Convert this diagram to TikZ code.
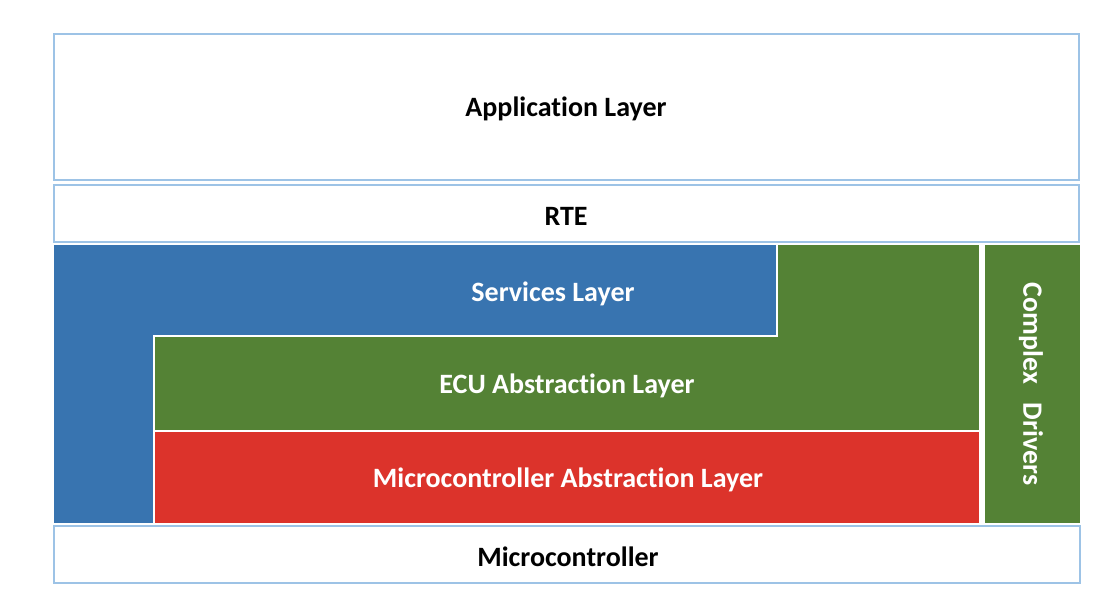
\documentclass[tikz,border=0pt]{standalone}
\usepackage{fontspec}
\setmainfont[Ligatures=NoCommon]{Carlito}
\definecolor{bordblue}{HTML}{9DC3E6}
\definecolor{svcblue}{HTML}{3874B0}
\definecolor{ecugreen}{HTML}{548235}
\definecolor{mcalred}{HTML}{DC332B}
\tikzset{
  whitebox/.style={draw=bordblue, line width=2pt, fill=white},
  colbox/.style={draw=white, line width=2pt},
  lbl/.style={font=\bfseries\fontsize{28}{32}\selectfont, text=black, inner sep=0pt},
  wlbl/.style={lbl, text=white},
}
\begin{document}
\begin{tikzpicture}[x=1pt,y=-1pt]
\useasboundingbox (0,0) rectangle (1118,604);
% white boxes
\draw[whitebox] (54,34) rectangle (1079,180);
\draw[whitebox] (54,185) rectangle (1079,242);
\draw[whitebox] (54,526) rectangle (1080,583);
% colored
\draw[colbox, fill=ecugreen] (776,244) -- (980,244) -- (980,431) -- (154,431) -- (154,336) -- (776,336) -- cycle;
\draw[colbox, fill=mcalred] (154,431) rectangle (980,524);
\draw[colbox, fill=ecugreen] (984,244) rectangle (1081,524);
\draw[colbox, fill=svcblue] (53,244) -- (777,244) -- (777,336) -- (154,336) -- (154,524) -- (53,524) -- cycle;
% labels
\node[lbl] (app) at (566,109) {Application Layer};
\node[lbl] (rte) at (566,216) {RTE};
\node[wlbl] (svc) at (553,294) {Services Layer};
\node[wlbl] (ecu) at (567,386) {ECU Abstraction Layer};
\node[wlbl] (mcal) at (568,480) {Microcontroller Abstraction Layer};
\node[lbl] (mc) at (568,557) {Microcontroller};
\node[wlbl, rotate=-90] (cdd) at (1031,384) {Complex\ \ \ Drivers};
\end{tikzpicture}
\end{document}
